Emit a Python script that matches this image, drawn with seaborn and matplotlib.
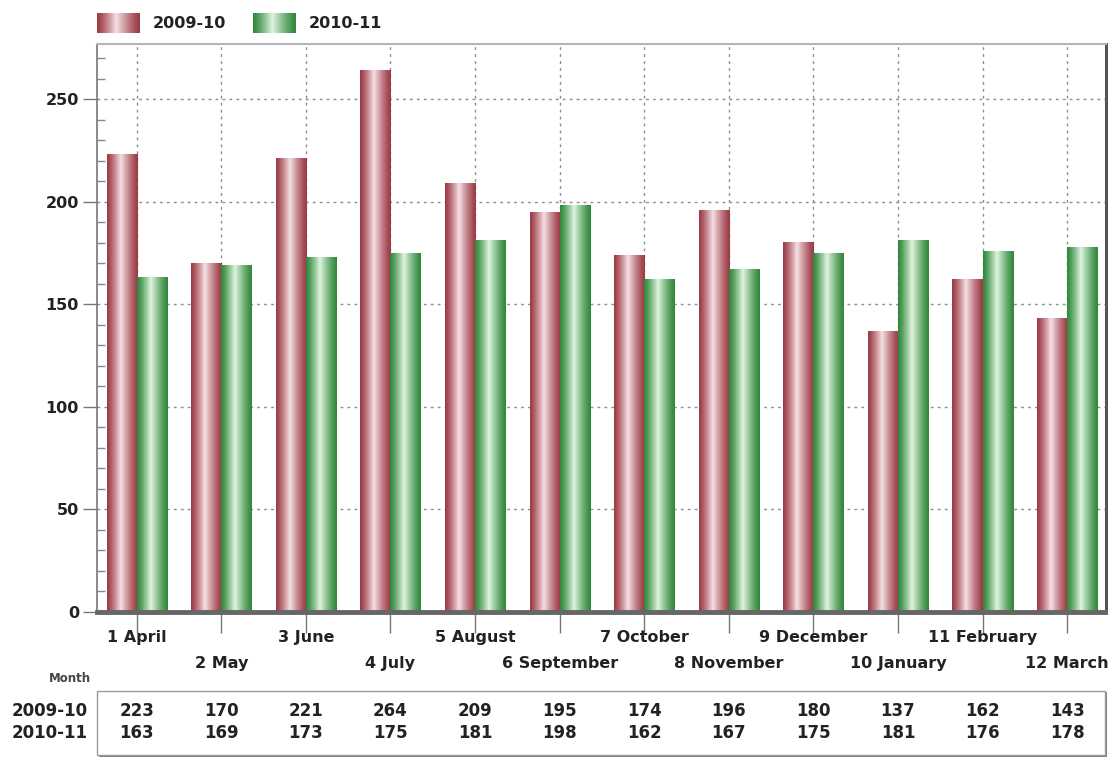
import numpy as np
import pandas as pd
import matplotlib
matplotlib.use("Agg")
import matplotlib.pyplot as plt
import seaborn as sns
from matplotlib.patches import Rectangle
from matplotlib.transforms import blended_transform_factory

# ---- data -------------------------------------------------------------
months = ["1 April", "2 May", "3 June", "4 July", "5 August", "6 September",
          "7 October", "8 November", "9 December", "10 January", "11 February",
          "12 March"]
seasons = ["2009-10", "2010-11"]
values_2009_10 = [223, 170, 221, 264, 209, 195, 174, 196, 180, 137, 162, 143]
values_2010_11 = [163, 169, 173, 175, 181, 198, 162, 167, 175, 181, 176, 178]
y_ticks = [0, 50, 100, 150, 200, 250]

sns.set_theme(style="white")
plt.rcParams["font.family"] = ["DejaVu Sans"]

df = pd.DataFrame({
    "Month": months * 2,
    "Season": [seasons[0]] * len(months) + [seasons[1]] * len(months),
    "Value": values_2009_10 + values_2010_11,
})

W, H = 1108, 760
TXT = "#222222"
fig = plt.figure(figsize=(W / 100, H / 100), dpi=100)
ax = fig.add_axes([97 / W, 1 - 612 / H, (1106 - 97) / W, (612 - 44) / H])

# (dark edge colour, light highlight colour) for the cylinder shading
shades = {
    seasons[0]: ((156, 58, 68), (245, 224, 228)),
    seasons[1]: ((48, 136, 58), (224, 245, 224)),
}


def cylinder(dark, light, n=96):
    t = np.linspace(0, 1, n)
    peak = 0.45
    s = np.where(t < peak, (peak - t) / peak, (t - peak) / (1 - peak))
    k = (1 - s) ** 1.25
    d = np.array(dark) / 255.0
    l = np.array(light) / 255.0
    rgb = d[None, :] * (1 - k[:, None]) + l[None, :] * k[:, None]
    return rgb[None, :, :]


sns.barplot(data=df, x="Month", y="Value", hue="Season", order=months,
            hue_order=seasons, palette=["#b04a50", "#3f9a48"], width=0.71,
            saturation=1, errorbar=None, legend=False, ax=ax, zorder=2)

# replace flat bars with shaded cylinders of the same geometry
for season, container in zip(seasons, ax.containers):
    grad = cylinder(*shades[season])
    for bar in container:
        x0 = bar.get_x()
        w = bar.get_width()
        h = bar.get_height()
        bar.set_facecolor("none")
        bar.set_edgecolor("none")
        ax.imshow(grad, extent=[x0, x0 + w, 0, h], aspect="auto",
                  interpolation="bilinear", zorder=2)

ax.set_xlim(-0.47, 11.46)
ax.set_ylim(0, 277)
ax.set_xlabel("")
ax.set_ylabel("")

# y axis: labelled ticks every 50, small inner ticks every 10
ax.set_axisbelow(True)
ax.set_yticks(y_ticks)
ax.set_yticks(np.arange(0, 271, 10), minor=True)
ax.tick_params(axis="y", which="major", direction="out", length=10, width=1,
               color="#777777", left=True, pad=3, labelsize=11.5,
               labelcolor=TXT)
ax.tick_params(axis="y", which="minor", direction="in", length=6, width=1,
               color="#888888", left=True)
for lbl in ax.get_yticklabels():
    lbl.set_fontweight("bold")

# x axis: month names staggered on two rows
idx = np.arange(len(months))
ax.set_xticks(idx[::2], [months[i] for i in idx[::2]])
ax.set_xticks(idx[1::2], [months[i] for i in idx[1::2]], minor=True)
ax.tick_params(axis="x", which="both", direction="out", length=15, width=1,
               color="#777777", bottom=True, labelsize=11.5, labelcolor=TXT)
ax.tick_params(axis="x", which="major", pad=-2)
ax.tick_params(axis="x", which="minor", pad=16.5)
for lbl in ax.get_xticklabels(which="both"):
    lbl.set_fontweight("bold")

# dotted grid
ax.yaxis.grid(True, which="major", linestyle=(0, (2, 3)), color="#8c8c8c", lw=1)
ax.xaxis.grid(True, which="both", linestyle=(0, (2, 3)), color="#8c8c8c", lw=1)

# frame
ax.spines["left"].set_color("#777777")
ax.spines["left"].set_linewidth(1.2)
ax.spines["top"].set_color("#b5b5b5")
ax.spines["top"].set_linewidth(1.5)
ax.spines["right"].set_color("#555555")
ax.spines["right"].set_linewidth(2.2)
ax.spines["bottom"].set_color("#666666")
ax.spines["bottom"].set_linewidth(3.5)

# legend with shaded swatches
for x0, season in [(97, seasons[0]), (253, seasons[1])]:
    lax = fig.add_axes([x0 / W, 1 - 33 / H, 43 / W, 20 / H])
    lax.imshow(cylinder(*shades[season]), aspect="auto", interpolation="bilinear")
    lax.axis("off")
    fig.text((x0 + 56) / W, 1 - 23 / H, season, va="center", ha="left",
             fontsize=11.5, fontweight="bold", color=TXT)

# data table under the axis
fig.text(70 / W, 1 - 679 / H, "Month", ha="center", va="center",
         fontsize=8.5, fontweight="bold", color="#444444")
shadow = Rectangle((99 / W, 1 - 757 / H), (1105 - 97) / W, (756 - 691) / H,
                   transform=fig.transFigure, facecolor="#808080",
                   edgecolor="none", zorder=1)
box = Rectangle((97 / W, 1 - 755 / H), (1105 - 97) / W, (755 - 691) / H,
                transform=fig.transFigure, facecolor="white",
                edgecolor="#9a9a9a", lw=1, zorder=2)
fig.add_artist(shadow)
fig.add_artist(box)

trans = blended_transform_factory(ax.transData, fig.transFigure)
for row_y, season, vals in [(711, seasons[0], values_2009_10),
                            (733, seasons[1], values_2010_11)]:
    fig.text(88 / W, 1 - row_y / H, season, ha="right", va="center",
             fontsize=12, fontweight="bold", color=TXT, zorder=3)
    for i, v in enumerate(vals):
        fig.text(i, 1 - row_y / H, str(v), transform=trans, ha="center",
                 va="center", fontsize=12, fontweight="bold", color=TXT,
                 zorder=3)

fig.savefig("out.png", dpi=100)
